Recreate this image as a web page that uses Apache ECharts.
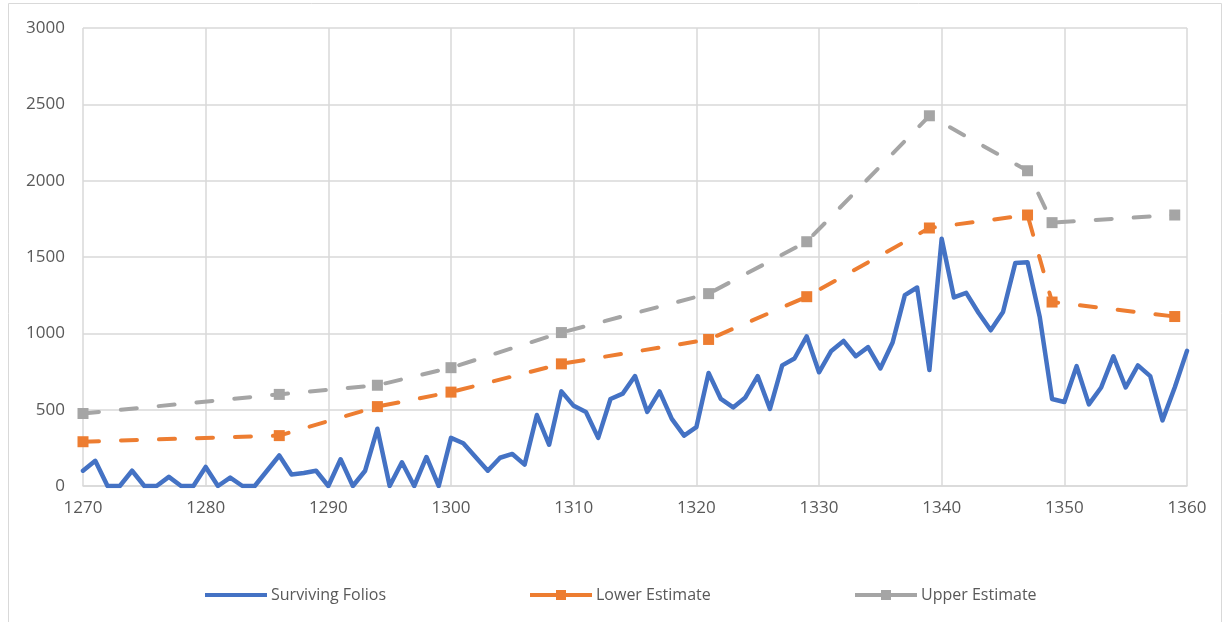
<!DOCTYPE html>
<html>
<head>
<meta charset="utf-8">
<script src="https://cdn.jsdelivr.net/npm/echarts@6/dist/echarts.min.js"></script>
<style>
  html, body { margin: 0; padding: 0; background: #ffffff; }
  #chart { width: 1226px; height: 622px; }
</style>
</head>
<body>
<div id="chart"></div>
<script>
// Surviving folios per year, 1270-1360
const years = [
  1270, 1271, 1272, 1273, 1274, 1275, 1276, 1277, 1278, 1279,
  1280, 1281, 1282, 1283, 1284, 1285, 1286, 1287, 1288, 1289,
  1290, 1291, 1292, 1293, 1294, 1295, 1296, 1297, 1298, 1299,
  1300, 1301, 1302, 1303, 1304, 1305, 1306, 1307, 1308, 1309,
  1310, 1311, 1312, 1313, 1314, 1315, 1316, 1317, 1318, 1319,
  1320, 1321, 1322, 1323, 1324, 1325, 1326, 1327, 1328, 1329,
  1330, 1331, 1332, 1333, 1334, 1335, 1336, 1337, 1338, 1339,
  1340, 1341, 1342, 1343, 1344, 1345, 1346, 1347, 1348, 1349,
  1350, 1351, 1352, 1353, 1354, 1355, 1356, 1357, 1358, 1359,
  1360
];
const survivingFolios = [
  100, 165, 0, 0, 100, 0, 0, 60, 0, 0,
  125, 0, 55, 0, 0, 100, 200, 75, 85, 100,
  0, 175, 0, 100, 375, 0, 155, 0, 190, 0,
  315, 280, 190, 100, 185, 210, 140, 465, 270, 620,
  525, 485, 315, 570, 605, 720, 485, 620, 440, 330,
  385, 740, 570, 515, 580, 720, 505, 790, 835, 980,
  745, 885, 950, 850, 910, 770, 940, 1250, 1300, 760,
  1620, 1235, 1265, 1135, 1020, 1140, 1460, 1465, 1105, 570,
  550, 785, 535, 645, 850, 645, 790, 720, 430, 645,
  885
];

// Estimated production at selected years
const estimateYears = [1270, 1286, 1294, 1300, 1309, 1321, 1329, 1339, 1347, 1349, 1359];
const lowerEstimate = [290, 330, 520, 615, 800, 960, 1240, 1690, 1775, 1205, 1110];
const upperEstimate = [475, 600, 660, 775, 1005, 1260, 1600, 2425, 2065, 1725, 1775];

// Axis ticks
const xTicks = { min: 1270, max: 1360, step: 10 };
const yTicks = { min: 0, max: 3000, step: 500 };

const seriesNames = ['Surviving Folios', 'Lower Estimate', 'Upper Estimate'];
const colors = ['#4472C4', '#ED7D31', '#A5A5A5'];

const pairs = (xs, ys) => xs.map((x, i) => [x, ys[i]]);

const FONT = '"Open Sans", "Noto Sans", sans-serif';

// Legend glyphs: a plain stroke, and a stroke with a square marker in the middle
const LINE_ICON = 'path://M0,3H62V7H0Z';
const MARKER_ICON = 'path://M0,3H26V0H36V3H62V7H36V10H26V7H0Z';

const chart = echarts.init(document.getElementById('chart'), null, { renderer: 'canvas' });

const dashed = (color) => ({
  color: color,
  width: 4,
  type: [16, 22],
  cap: 'round',
  join: 'round'
});

// one legend per entry so each sits in an evenly spaced slot
const legendSlot = (name, left, icon) => ({
  left: left,
  top: 582,
  itemWidth: 62,
  itemHeight: 10,
  itemGap: 0,
  icon: icon,
  textStyle: { color: '#595959', fontFamily: FONT, fontSize: 16, padding: [0, 0, 0, -1] },
  data: [name]
});

chart.setOption({
  animation: false,
  color: colors,
  grid: { left: 83, right: 39, top: 28, bottom: 136, containLabel: false },
  graphic: [{
    type: 'rect',
    shape: { x: 8.5, y: 3.5, width: 1213, height: 640 },
    style: { fill: 'none', stroke: '#d9d9d9', lineWidth: 1 },
    silent: true,
    z: -1
  }],
  xAxis: {
    type: 'value',
    min: xTicks.min,
    max: xTicks.max,
    interval: xTicks.step,
    axisLine: { show: true, lineStyle: { color: '#d9d9d9', width: 1.5 } },
    axisTick: { show: false },
    splitLine: { show: true, lineStyle: { color: '#d9d9d9', width: 1.5 } },
    axisLabel: {
      color: '#595959', fontFamily: FONT, fontSize: 17, margin: 14,
      formatter: (v) => String(v)
    }
  },
  yAxis: {
    type: 'value',
    min: yTicks.min,
    max: yTicks.max,
    interval: yTicks.step,
    axisLine: { show: false },
    axisTick: { show: false },
    splitLine: { show: true, lineStyle: { color: '#d9d9d9', width: 1.5 } },
    axisLabel: {
      color: '#595959', fontFamily: FONT, fontSize: 17, margin: 18,
      formatter: (v) => String(v)
    }
  },
  legend: [
    legendSlot(seriesNames[0], 200, LINE_ICON),
    legendSlot(seriesNames[1], 525, MARKER_ICON),
    legendSlot(seriesNames[2], 850, MARKER_ICON)
  ],
  series: [
    {
      name: seriesNames[0],
      type: 'line',
      data: pairs(years, survivingFolios),
      symbol: 'none',
      lineStyle: { color: colors[0], width: 4.5, cap: 'round', join: 'round' },
      z: 3
    },
    {
      name: seriesNames[1],
      type: 'line',
      data: pairs(estimateYears, lowerEstimate),
      symbol: 'rect',
      symbolSize: 11,
      itemStyle: { color: colors[1] },
      lineStyle: dashed(colors[1]),
      z: 2
    },
    {
      name: seriesNames[2],
      type: 'line',
      data: pairs(estimateYears, upperEstimate),
      symbol: 'rect',
      symbolSize: 11,
      itemStyle: { color: colors[2] },
      lineStyle: dashed(colors[2]),
      z: 2
    }
  ]
});
</script>
</body>
</html>
